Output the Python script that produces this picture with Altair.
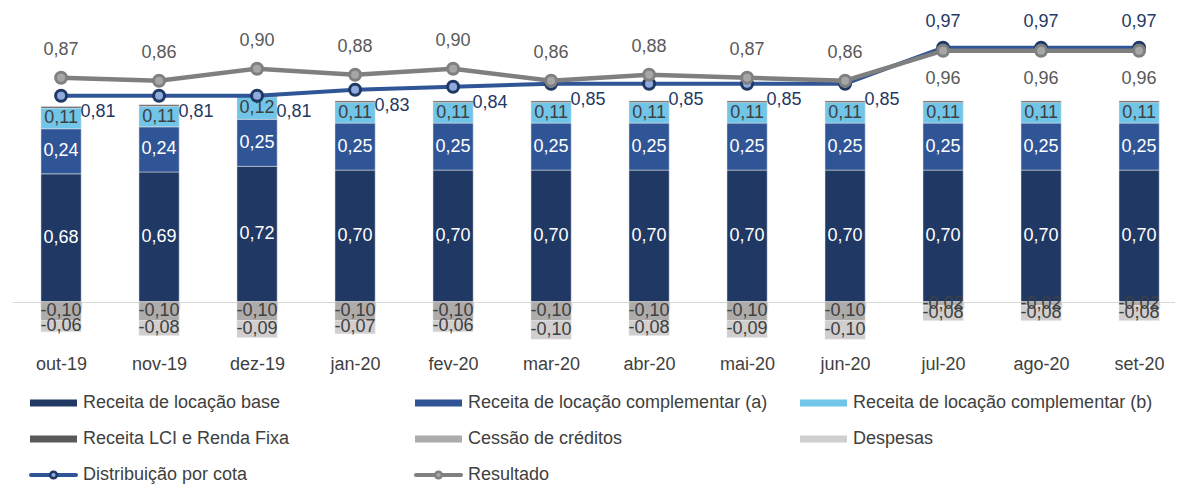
import altair as alt
import pandas as pd

# ---------------- data ----------------
months = ["out-19", "nov-19", "dez-19", "jan-20", "fev-20", "mar-20",
          "abr-20", "mai-20", "jun-20", "jul-20", "ago-20", "set-20"]
base = [0.68, 0.69, 0.72, 0.70, 0.70, 0.70, 0.70, 0.70, 0.70, 0.70, 0.70, 0.70]
comp_a = [0.24, 0.24, 0.25, 0.25, 0.25, 0.25, 0.25, 0.25, 0.25, 0.25, 0.25, 0.25]
comp_b = [0.11, 0.11, 0.12, 0.11, 0.11, 0.11, 0.11, 0.11, 0.11, 0.11, 0.11, 0.11]
lci = [0.008, 0.008, 0.008, 0.008, 0.008, 0.008, 0.008, 0.008, 0.008, 0.008, 0.008, 0.008]
cessao = [-0.10, -0.10, -0.10, -0.10, -0.10, -0.10, -0.10, -0.10, -0.10, -0.02, -0.02, -0.02]
despesas = [-0.06, -0.08, -0.09, -0.07, -0.06, -0.10, -0.08, -0.09, -0.10, -0.08, -0.08, -0.08]
dist = [0.81, 0.81, 0.81, 0.83, 0.84, 0.85, 0.85, 0.85, 0.85, 0.97, 0.97, 0.97]
res = [0.87, 0.86, 0.90, 0.88, 0.90, 0.86, 0.88, 0.87, 0.86, 0.96, 0.96, 0.96]

bar_series = ["Receita de locação base", "Receita de locação complementar (a)",
              "Receita de locação complementar (b)", "Receita LCI e Renda Fixa",
              "Cessão de créditos", "Despesas"]
line_series = ["Distribuição por cota", "Resultado"]
bar_colors = ["#203864", "#2F5597", "#71C5E8", "#595959", "#AEABAB", "#D0CECE"]

FONT = "Liberation Sans"

# ---------------- tables ----------------
series_values = [base, comp_a, comp_b, lci, cessao, despesas]
rows = []
for k, (name, vals) in enumerate(zip(bar_series, series_values)):
    for m, v in zip(months, vals):
        rows.append({"month": m, "series": name, "k": k, "value": v})
bars_df = pd.DataFrame(rows)
lines_df = pd.DataFrame({"month": months, "dist": dist, "res": res})
legend_df = pd.DataFrame({"name": bar_series + line_series,
                          "idx": list(range(len(bar_series) + len(line_series)))})

# ---------------- scales ----------------
W = 1163
H = 341
xscale = alt.Scale(domain=months, paddingInner=0.59, paddingOuter=0.2285, align=0.647)
ybar = alt.Scale(domain=[-0.2516, 1.5622], nice=False, zero=False)
yline = alt.Scale(domain=[-0.0343, 1.1023], nice=False, zero=False)

x_axis = alt.Axis(title=None, offset=-47, domainColor="#D9D9D9", domainWidth=1,
                  tickColor="#D0D0D0", tickBand="extent", tickSize=6, tickWidth=1.5,
                  labelAngle=0, labelFont=FONT, labelFontSize=18,
                  labelColor="#404040", labelPadding=47, grid=False)
X = alt.X("month:N", sort=months, scale=xscale, axis=x_axis)

stacked = alt.Chart(bars_df).transform_stack(
    stack="value", as_=["v0", "v1"], groupby=["month"],
    sort=[alt.SortField("k", order="ascending")]
)

bars = stacked.mark_bar(stroke="#E4E4E4", strokeWidth=0.5).encode(
    x=X,
    y=alt.Y("v0:Q", scale=ybar, axis=None),
    y2="v1:Q",
    color=alt.Color("series:N", scale=alt.Scale(domain=bar_series, range=bar_colors), legend=None),
)

bar_labels = stacked.transform_filter(
    alt.datum.k != 3
).transform_calculate(mid="(datum.v0 + datum.v1) / 2").mark_text(
    font=FONT, fontSize=18, baseline="middle", align="center"
).encode(
    x=X,
    y=alt.Y("mid:Q", scale=ybar, axis=None),
    text=alt.Text("value:Q", format=".2f"),
    color=alt.condition("datum.k < 2", alt.value("white"), alt.value("#404040")),
)

base_lines = alt.Chart(lines_df)
dist_line = base_lines.mark_line(color="#2F5597", strokeWidth=4).encode(
    x=X, y=alt.Y("dist:Q", scale=yline, axis=None))
dist_pts = base_lines.mark_point(shape="circle", size=120, fill="#8FAADC", fillOpacity=1,
                                 stroke="#1F3864", strokeWidth=3, opacity=1).encode(
    x=X, y=alt.Y("dist:Q", scale=yline, axis=None))
res_line = base_lines.mark_line(color="#7F7F7F", strokeWidth=4.5).encode(
    x=X, y=alt.Y("res:Q", scale=yline, axis=None))
res_pts = base_lines.mark_point(shape="circle", size=120, fill="#A6A6A6", fillOpacity=1,
                                stroke="#808080", strokeWidth=3, opacity=1).encode(
    x=X, y=alt.Y("res:Q", scale=yline, axis=None))

early = alt.FieldOneOfPredicate(field="month", oneOf=months[:9])
late = alt.FieldOneOfPredicate(field="month", oneOf=months[9:])

def line_label(field, pred, dx, dy, color):
    return base_lines.transform_filter(pred).mark_text(
        font=FONT, fontSize=18, baseline="middle", align="center",
        dx=dx, dy=dy, color=color
    ).encode(x=X, y=alt.Y(f"{field}:Q", scale=yline, axis=None),
             text=alt.Text(f"{field}:Q", format=".2f"))

dist_lab_a = line_label("dist", early, 37, 16, "#1F3864")
dist_lab_b = line_label("dist", late, 0, -26, "#1F3864")
res_lab_a = line_label("res", early, 0, -28, "#595959")
res_lab_b = line_label("res", late, 0, 28, "#595959")

main = alt.layer(
    bars, bar_labels, dist_line, dist_pts, res_line, res_pts,
    dist_lab_a, dist_lab_b, res_lab_a, res_lab_b
).resolve_scale(y="independent").properties(width=W, height=H)

# ---------------- legend ----------------
xleg = alt.Scale(domain=[-18 / 385, (W - 18) / 385], nice=False, zero=False)
yleg = alt.Scale(domain=[0, 2], reverse=True, nice=False, zero=False)
leg_base = alt.Chart(legend_df).transform_calculate(
    row="floor(datum.idx / 3)", col="datum.idx % 3"
)
LX = alt.X("col:Q", scale=xleg, axis=None)
LY = alt.Y("row:Q", scale=yleg, axis=None)

leg_rects = leg_base.transform_filter(alt.datum.idx < 6).mark_rect(
    x2Offset=47, yOffset=-3.5, y2Offset=3.5
).encode(
    x=LX, x2="col:Q", y=LY, y2="row:Q",
    color=alt.Color("name:N", scale=alt.Scale(domain=bar_series, range=bar_colors), legend=None),
)

def leg_line(name, color, fill, stroke):
    sub = leg_base.transform_filter(alt.datum.name == name)
    ln = sub.mark_rule(strokeWidth=4, color=color, strokeCap="round", x2Offset=46, xOffset=1).encode(
        x=LX, x2="col:Q", y=LY)
    pt = sub.mark_point(shape="circle", size=45, fill=fill, fillOpacity=1, stroke=stroke,
                        strokeWidth=2.5, opacity=1, xOffset=23.5).encode(x=LX, y=LY)
    return ln + pt

leg_dist = leg_line("Distribuição por cota", "#2F5597", "#8FAADC", "#1F3864")
leg_res = leg_line("Resultado", "#7F7F7F", "#A6A6A6", "#808080")

leg_text = leg_base.mark_text(font=FONT, fontSize=18, align="left", baseline="middle",
                              dx=53, color="#404040").encode(x=LX, y=LY, text="name:N")

legend = alt.layer(leg_rects, leg_dist, leg_res, leg_text).properties(width=W, height=72)

chart = alt.vconcat(main, legend, spacing=21).resolve_scale(
    color="independent", x="independent", y="independent"
).properties(
    padding={"left": 4, "top": 0, "right": 0, "bottom": 0}
).configure(
    locale=alt.Locale(number=alt.NumberLocale(decimal=",", thousands=".", grouping=[3],
                                              currency=["R$", ""], minus="-"))
).configure_view(stroke=None)

chart.save("out.html", embed_options={"renderer": "svg", "actions": False})
